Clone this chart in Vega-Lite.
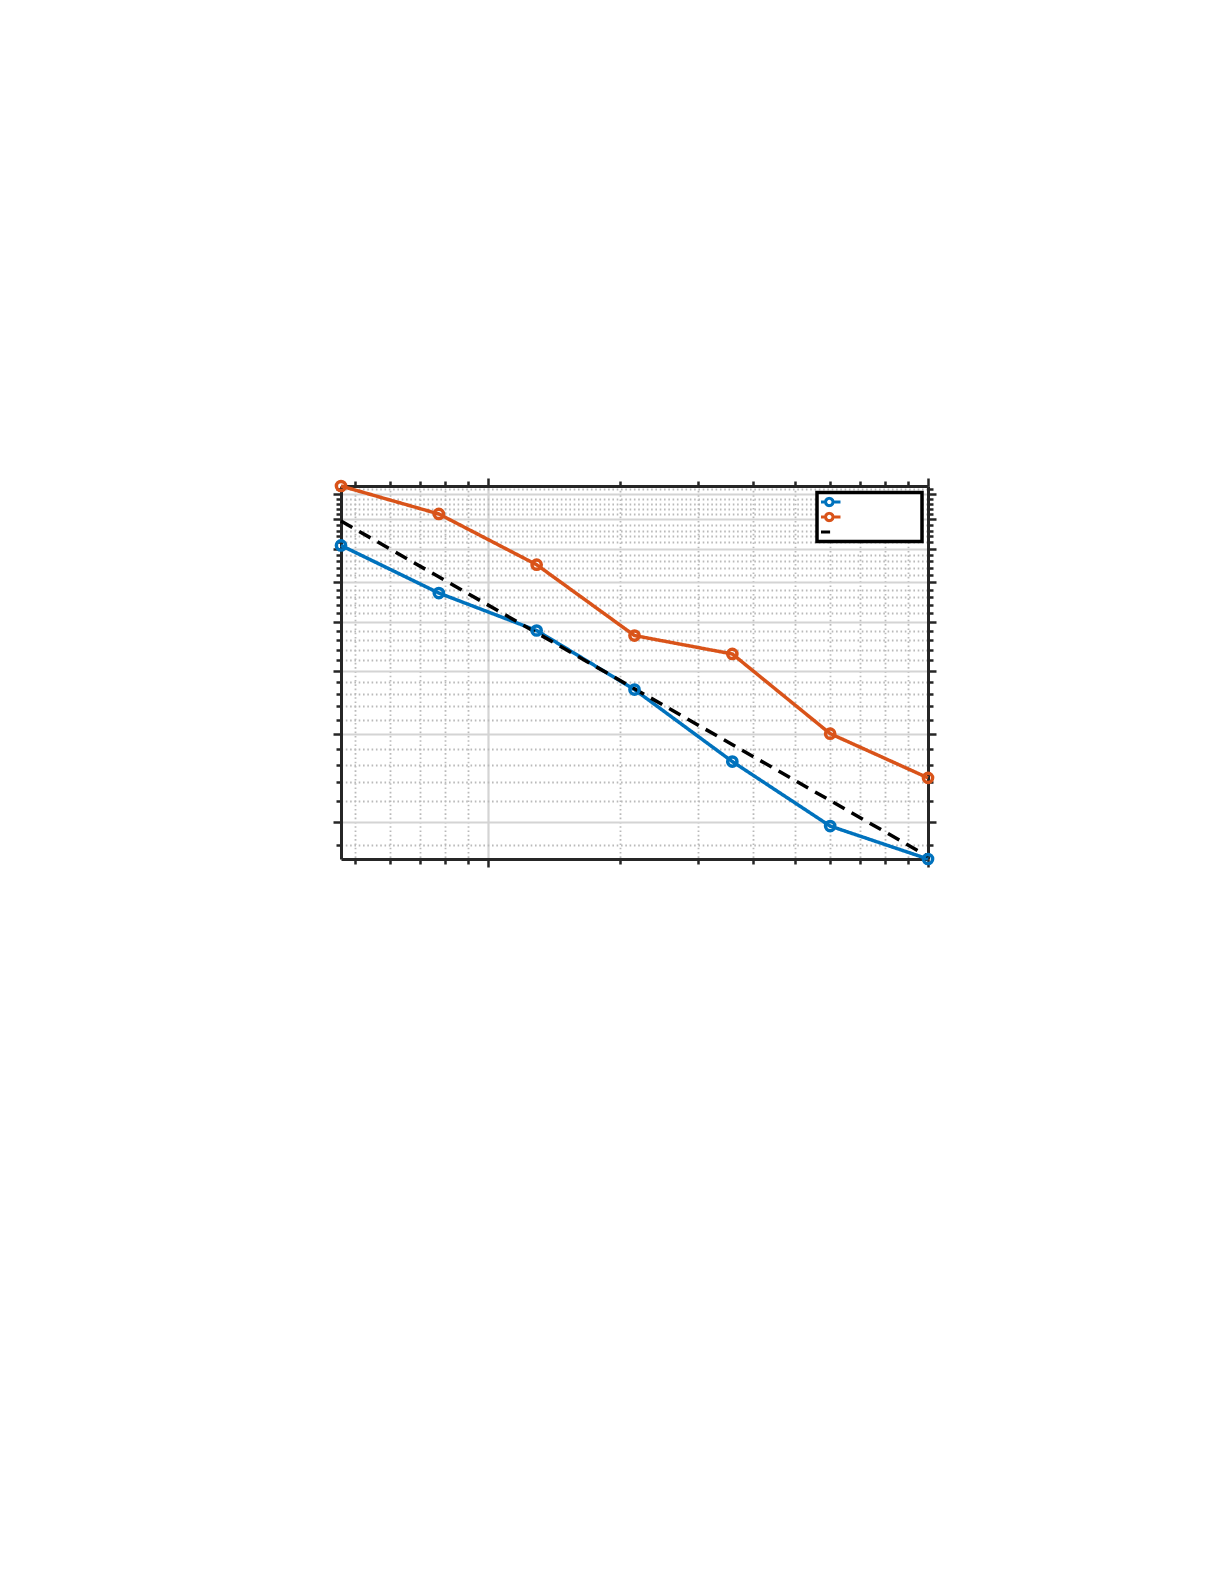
{
  "$schema": "https://vega.github.io/schema/vega-lite/v6.json",
  "autosize": {"type": "none"},
  "width": 587,
  "height": 373,
  "padding": {"left": 341, "top": 486, "right": 297, "bottom": 726},
  "background": "white",
  "config": {
    "view": {"stroke": null},
    "axis": {"labels": false, "domainColor": "#262626", "domainWidth": 3, "tickColor": "#262626", "tickWidth": 2.5}
  },
  "data": {
    "values": [
      {"x": 0.4642, "err": 7.10, "series": "Method 1"},
      {"x": 0.7743, "err": 5.71, "series": "Method 1"},
      {"x": 1.2915, "err": 4.81, "series": "Method 1"},
      {"x": 2.1544, "err": 3.67, "series": "Method 1"},
      {"x": 3.5938, "err": 2.64, "series": "Method 1"},
      {"x": 5.9948, "err": 1.965, "series": "Method 1"},
      {"x": 10, "err": 1.69, "series": "Method 1"},
      {"x": 0.4642, "err": 9.32, "series": "Method 2"},
      {"x": 0.7743, "err": 8.20, "series": "Method 2"},
      {"x": 1.2915, "err": 6.50, "series": "Method 2"},
      {"x": 2.1544, "err": 4.70, "series": "Method 2"},
      {"x": 3.5938, "err": 4.32, "series": "Method 2"},
      {"x": 5.9948, "err": 3.00, "series": "Method 2"},
      {"x": 10, "err": 2.45, "series": "Method 2"},
      {"x": 0.4642, "err": 7.94, "series": "Reference slope -1/2"},
      {"x": 10, "err": 1.71, "series": "Reference slope -1/2"}
    ]
  },
  "layer": [
    {
      "mark": {"type": "line", "strokeWidth": 3.5},
      "encoding": {
        "x": {
          "field": "x", "type": "quantitative",
          "scale": {"type": "log", "domain": [0.4642, 10], "nice": false},
          "axis": {
            "orient": "bottom", "title": null,
            "values": [0.5, 0.6, 0.7, 0.8, 0.9, 1, 2, 3, 4, 5, 6, 7, 8, 9, 10],
            "grid": true,
            "gridColor": "#bababa",
            "gridWidth": 1.8,
            "gridDash": [1.6, 2.7],
            "gridOpacity": {"condition": {"test": "datum.value === 1 || datum.value === 10", "value": 0}, "value": 1},
            "tickSize": {"condition": {"test": "datum.value === 1 || datum.value === 10", "value": 8}, "value": 5}
          }
        },
        "y": {
          "field": "err", "type": "quantitative",
          "scale": {"type": "log", "domain": [1.69, 9.32], "nice": false, "zero": false},
          "axis": {
            "orient": "left", "title": null,
            "values": [1.8, 2, 2.2, 2.4, 2.6, 2.8, 3, 3.2, 3.4, 3.6, 3.8, 4, 4.2, 4.4, 4.6, 4.8, 5, 5.2, 5.4, 5.6, 5.8, 6, 6.2, 6.4, 6.6, 6.8, 7, 7.2, 7.4, 7.6, 7.8, 8, 8.2, 8.4, 8.6, 8.8, 9, 9.2],
            "grid": true,
            "gridColor": "#bababa",
            "gridWidth": 1.8,
            "gridDash": [1.6, 2.7],
            "gridOpacity": {"condition": {"test": "datum.value % 1 === 0", "value": 0}, "value": 1},
            "tickSize": {"condition": {"test": "datum.value % 1 === 0", "value": 8}, "value": 5}
          }
        },
        "color": {
          "field": "series", "type": "nominal",
          "scale": {"domain": ["Method 1", "Method 2", "Reference slope -1/2"], "range": ["#0072BD", "#D95319", "#000000"]},
          "legend": {
            "orient": "none", "legendX": 476, "legendY": 6.5, "title": null,
            "padding": 4, "strokeColor": "#000000", "fillColor": "white",
            "labelOpacity": 0, "labelLimit": 73, "labelFontSize": 8, "labelOffset": 14,
            "symbolSize": 64, "symbolStrokeWidth": 3, "rowPadding": 4, "clipHeight": 11,
            "encode": {
              "legend": {"update": {"strokeWidth": {"value": 3.5}}},
              "symbols": {
                "update": {
                  "shape": {"signal": "datum.value === 'Reference slope -1/2' ? 'M-2.2,0H0.9' : 'M-2.2,0H-0.24M1.64,0H3.5M1.64,0L1.514,0.47L1.17,0.814L0.7,0.94L0.23,0.814L-0.114,0.47L-0.24,0L-0.114,-0.47L0.23,-0.814L0.7,-0.94L1.17,-0.814L1.514,-0.47Z'"},
                  "fill": {"value": "transparent"}
                }
              }
            }
          }
        },
        "strokeDash": {
          "field": "series", "type": "nominal",
          "scale": {"domain": ["Method 1", "Method 2", "Reference slope -1/2"], "range": [[1, 0], [1, 0], [13, 8]]}
        }
      }
    },
    {
      "transform": [{"filter": "datum.series !== 'Reference slope -1/2'"}],
      "mark": {"type": "point", "filled": false, "size": 85, "strokeWidth": 3.5, "opacity": 1},
      "encoding": {
        "x": {
          "field": "x", "type": "quantitative",
          "scale": {"type": "log", "domain": [0.4642, 10], "nice": false},
          "axis": {
            "orient": "top", "title": null,
            "values": [0.5, 0.6, 0.7, 0.8, 0.9, 1, 2, 3, 4, 5, 6, 7, 8, 9, 10],
            "grid": true,
            "gridColor": "#d4d4d4",
            "gridWidth": 2.2,
            "gridOpacity": {"condition": {"test": "datum.value === 1 || datum.value === 10", "value": 1}, "value": 0},
            "tickSize": {"condition": {"test": "datum.value === 1 || datum.value === 10", "value": 8}, "value": 5}
          }
        },
        "y": {
          "field": "err", "type": "quantitative",
          "scale": {"type": "log", "domain": [1.69, 9.32], "nice": false, "zero": false},
          "axis": {
            "orient": "right", "title": null,
            "values": [1.8, 2, 2.2, 2.4, 2.6, 2.8, 3, 3.2, 3.4, 3.6, 3.8, 4, 4.2, 4.4, 4.6, 4.8, 5, 5.2, 5.4, 5.6, 5.8, 6, 6.2, 6.4, 6.6, 6.8, 7, 7.2, 7.4, 7.6, 7.8, 8, 8.2, 8.4, 8.6, 8.8, 9, 9.2],
            "grid": true,
            "gridColor": "#d4d4d4",
            "gridWidth": 2.2,
            "gridOpacity": {"condition": {"test": "datum.value % 1 === 0", "value": 1}, "value": 0},
            "tickSize": {"condition": {"test": "datum.value % 1 === 0", "value": 8}, "value": 5}
          }
        },
        "color": {
          "field": "series", "type": "nominal",
          "scale": {"domain": ["Method 1", "Method 2", "Reference slope -1/2"], "range": ["#0072BD", "#D95319", "#000000"]}
        }
      }
    }
  ],
  "resolve": {"axis": {"x": "independent", "y": "independent"}}
}
